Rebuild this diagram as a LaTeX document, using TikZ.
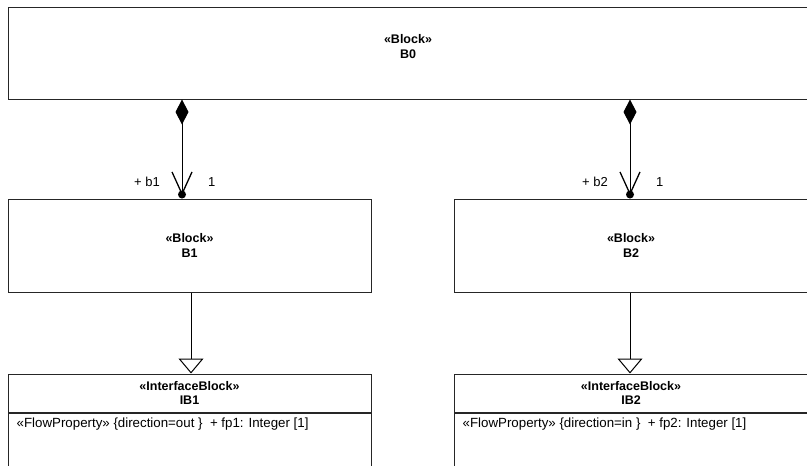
\documentclass[tikz,border=0pt]{standalone}
\usepackage{fontspec}
\setmainfont{Liberation Sans}
\usetikzlibrary{arrows.meta,positioning}
\tikzset{
  umlbox/.style={draw=black!85, line width=1pt, fill=white, inner sep=0pt},
  blockname/.style={font=\fontsize{12.5}{14.5}\selectfont\bfseries, align=center, inner sep=0pt},
  attr/.style={font=\fontsize{13.3}{15}\selectfont, anchor=north west, inner sep=0pt},
  rolelab/.style={font=\fontsize{13}{15}\selectfont, inner sep=0pt},
  compose/.style={line width=1pt, {Diamond[length=25pt, width=13pt, fill=black]}-{Straight Barb[length=22pt, width=20pt, line width=1.3pt]}},
  general/.style={line width=1pt, -{Triangle[open, length=15pt, width=25pt, fill=white, line width=1pt]}},
}

\begin{document}
\begin{tikzpicture}[x=1pt, y=-1pt]
\useasboundingbox (0,0) rectangle (807,466);

% blocks
\node[umlbox, minimum width=800pt, minimum height=92pt] (b0) at (408,53) {};
\node[blockname] (b0name) at (408,46.5) {«Block»\\B0};
\node[umlbox, minimum width=363pt, minimum height=93pt, blockname] (b1) at (189.5,245.5) {«Block»\\B1};
\node[umlbox, minimum width=354pt, minimum height=93pt, blockname] (b2) at (631,245.5) {«Block»\\B2};

% interface blocks
\node[umlbox, minimum width=363pt, minimum height=38pt, blockname] (ib1) at (189.5,393) {«InterfaceBlock»\\IB1};
\node[umlbox, minimum width=363pt, minimum height=53.5pt, below=0pt of ib1] (ib1att) {};
\node[attr, below right=5pt and 9pt of ib1att.north west] (fp1) {«FlowProperty» \{direction=out \}~~+ fp1: Integer [1]};
\node[umlbox, minimum width=354pt, minimum height=38pt, blockname] (ib2) at (631,393) {«InterfaceBlock»\\IB2};
\node[umlbox, minimum width=354pt, minimum height=53.5pt, below=0pt of ib2] (ib2att) {};
\node[attr, below right=5pt and 9pt of ib2att.north west] (fp2) {«FlowProperty» \{direction=in \}~~+ fp2: Integer [1]};

% part ends
\coordinate (x1) at (182,0);
\coordinate (x2) at (630,0);
\coordinate (g1) at (191,0);
\coordinate (e1) at (b1.north -| x1);
\coordinate (e2) at (b2.north -| x2);

\draw[compose, shorten >=3pt] (b0.south -| x1) -- (e1);
\draw[compose, shorten >=3pt] (b0.south -| x2) -- (e2);
\fill ([yshift=4pt]e1) circle (4pt);
\fill ([yshift=4pt]e2) circle (4pt);

\node[rolelab, above left=12pt and 22pt of e1] (b1role) {+ b1};
\node[rolelab, above right=12pt and 26pt of e1] (b1mult) {1};
\node[rolelab, above left=12pt and 22pt of e2] (b2role) {+ b2};
\node[rolelab, above right=12pt and 26pt of e2] (b2mult) {1};

% generalizations
\draw[general] (b1.south -| g1) -- (ib1.north -| g1);
\draw[general] (b2.south -| x2) -- (ib2.north -| x2);

\end{tikzpicture}
\end{document}
